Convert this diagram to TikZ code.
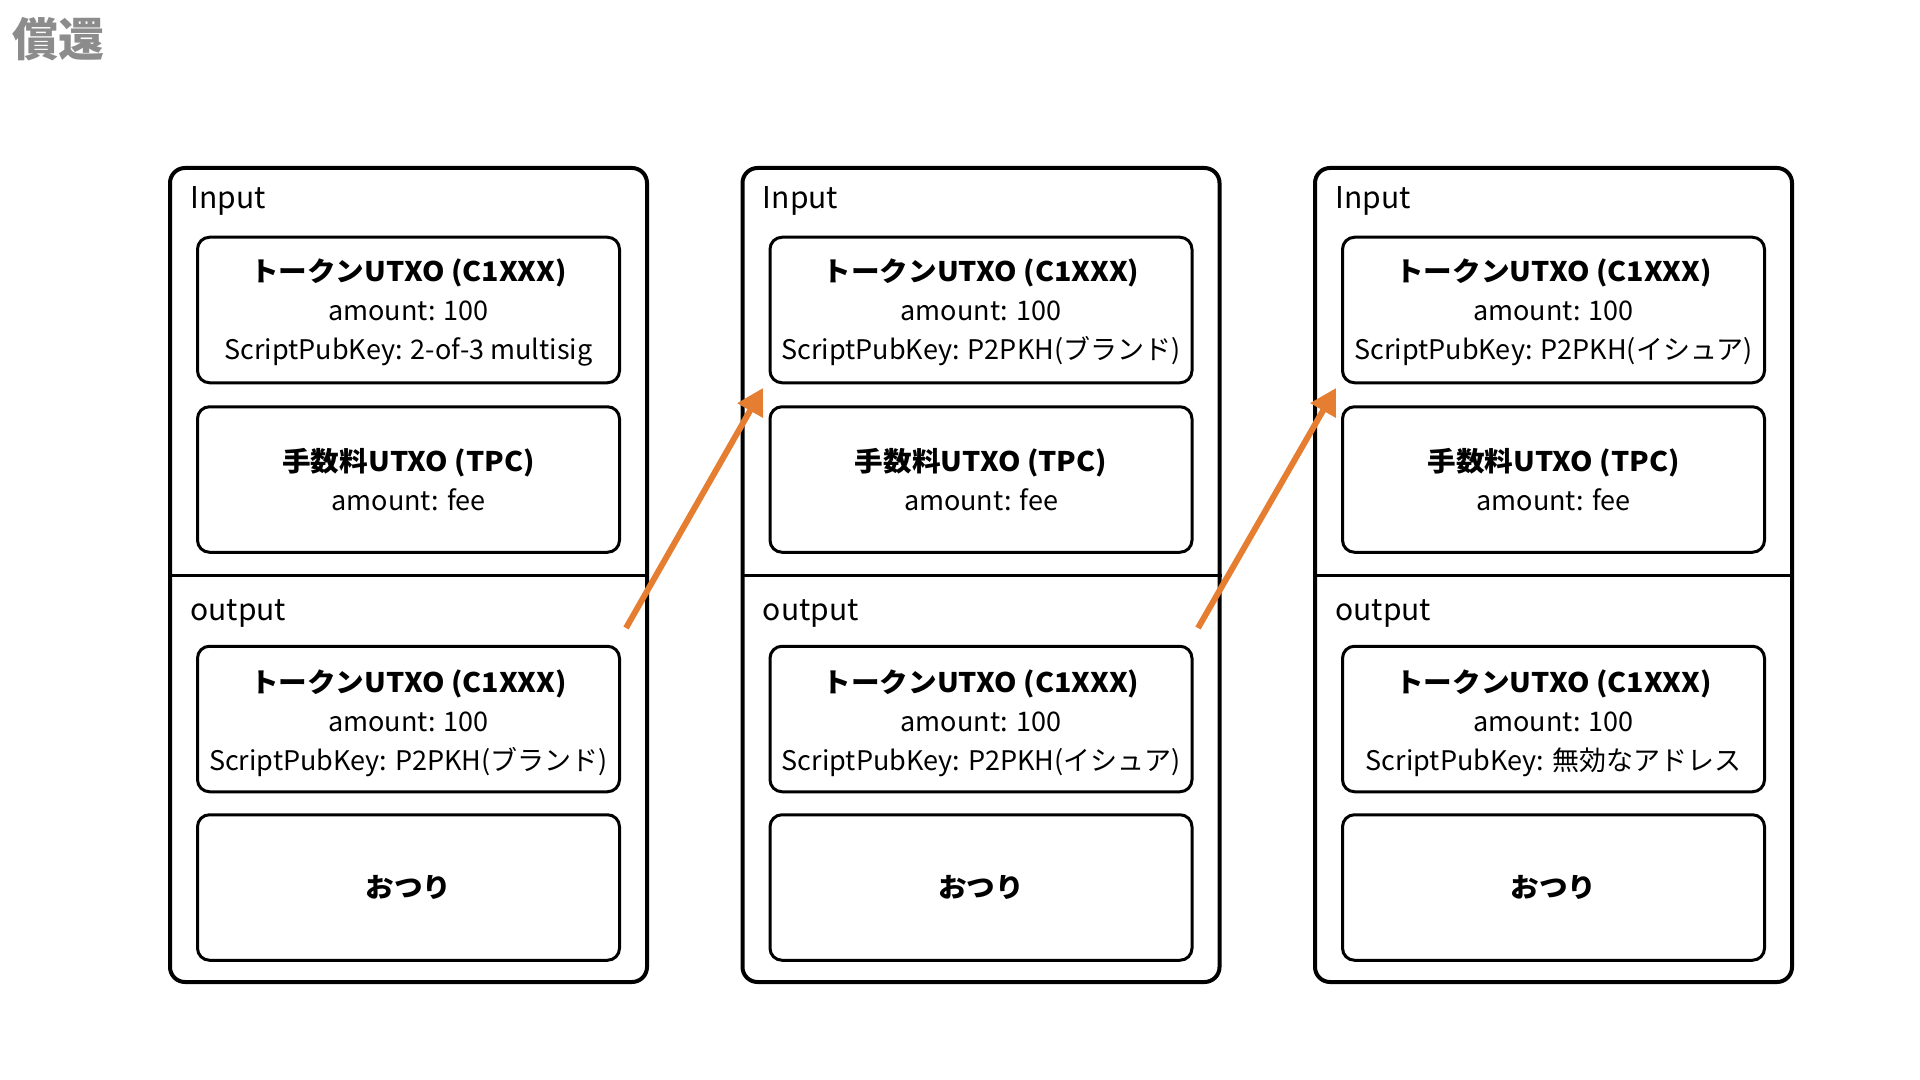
\documentclass[tikz,border=0pt]{standalone}
\usepackage{fontspec}
\setmainfont{Noto Sans CJK JP}
\usetikzlibrary{arrows.meta}
\definecolor{arroworange}{HTML}{E57E31}
\definecolor{titlegray}{HTML}{8C8C8C}
\newcommand{\boxhead}[1]{{\bfseries\addfontfeature{FakeStretch=1.06}#1}}
\tikzset{
  outerbox/.style={draw=black, line width=2pt, rounded corners=7.5pt, minimum width=238.5pt, minimum height=407pt, inner sep=0pt},
  innerbox/.style={draw=black, line width=1.5pt, rounded corners=6pt, minimum width=211pt, minimum height=72.75pt, inner sep=0pt},
  boxtext/.style={inner sep=0pt, align=center, font=\fontsize{13.5pt}{19.5pt}\selectfont},
  seclabel/.style={anchor=base west, inner sep=0pt, font=\fontsize{15pt}{18pt}\selectfont},
  divider/.style={draw=black, line width=1.5pt},
  flow/.style={draw=arroworange, line width=3pt, -{Triangle[length=13pt,width=14pt]}},
}
\newcommand{\txcolumn}[4]{%
  \node[outerbox] (#1) at (#2,575) {};
  \draw[divider] (#1.west) -- (#1.east);
  \node[seclabel] (#1in) at ([xshift=11pt]#1.west |- 0,209) {Input};
  \node[seclabel] (#1out) at ([xshift=11pt]#1.west |- 0,620) {output};
  \node[innerbox] (#1a) at (#2,310) {};
  \node[boxtext] (#1at) at ([yshift=-1.3pt]#1a.center) {\boxhead{トークンUTXO (C1XXX)}\\amount: 100\\ScriptPubKey: #3};
  \node[innerbox] (#1b) at (#2,479.5) {};
  \node[boxtext] (#1bt) at (#1b.center) {\boxhead{手数料UTXO (TPC)}\\amount: fee};
  \node[innerbox] (#1c) at (#2,719) {};
  \node[boxtext] (#1ct) at ([yshift=-2.3pt]#1c.center) {\boxhead{トークンUTXO (C1XXX)}\\amount: 100\\ScriptPubKey: #4};
  \node[innerbox] (#1d) at (#2,887.5) {};
  \node[boxtext] (#1dt) at (#1d.center) {\boxhead{おつり}};
}
\begin{document}
\begin{tikzpicture}[x=0.5pt,y=-0.5pt]
\useasboundingbox (0,0) rectangle (1920,1080);
\node[anchor=base west, inner sep=0pt, text=titlegray, font=\fontsize{23pt}{26pt}\selectfont\bfseries] (title) at (12,57) {償還};
\txcolumn{tx1}{408.5}{2-of-3 multisig}{P2PKH(ブランド)}
\txcolumn{tx2}{981}{P2PKH(ブランド)}{P2PKH(イシュア)}
\txcolumn{tx3}{1553.5}{P2PKH(イシュア)}{無効なアドレス}
\coordinate (s1) at (626,628);
\coordinate (e1) at (763,388);
\coordinate (s2) at (1198,628);
\coordinate (e2) at (1336,388);
\draw[flow] (s1) -- (e1);
\draw[flow] (s2) -- (e2);
\end{tikzpicture}
\end{document}
